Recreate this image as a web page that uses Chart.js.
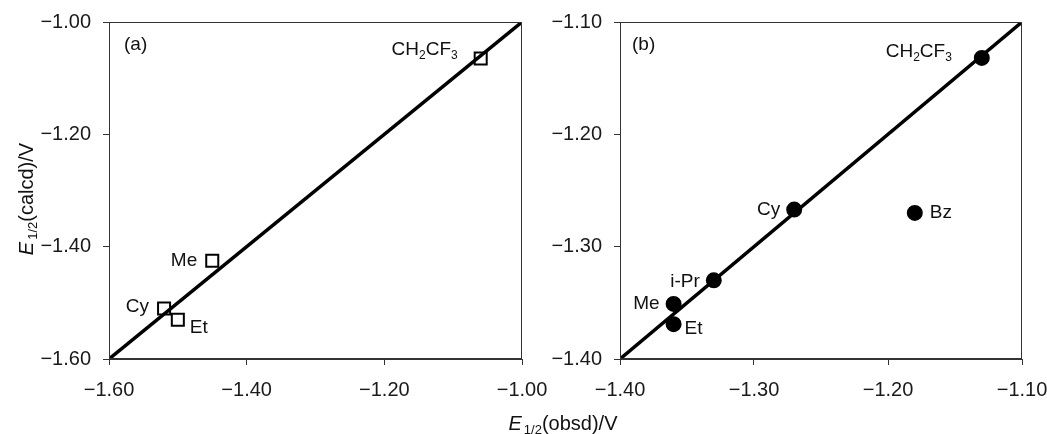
<!DOCTYPE html>
<html>
<head>
<meta charset="utf-8">
<script src="https://cdn.jsdelivr.net/npm/chart.js@4/dist/chart.umd.min.js"></script>
<style>
  html, body { margin: 0; padding: 0; background: #fff; }
  #wrap { position: relative; width: 1047px; height: 434px; }
  #wrap canvas { position: absolute; left: 0; top: 0; }
</style>
</head>
<body>
<div id="wrap">
  <canvas id="chartA" width="1047" height="434"></canvas>
  <canvas id="chartB" width="1047" height="434"></canvas>
</div>
<script>
// panel (a): open squares
var namesA = ['CH2CF3', 'Me', 'Cy', 'Et'];
var obsdA  = [-1.06, -1.45, -1.52, -1.50];
var calcdA = [-1.065, -1.425, -1.51, -1.53];
var fitA   = [-1.60, -1.00];
var ticksA = [-1.60, -1.40, -1.20, -1.00];

// panel (b): filled circles
var namesB = ['CH2CF3', 'Cy', 'Bz', 'i-Pr', 'Me', 'Et'];
var obsdB  = [-1.13, -1.27, -1.18, -1.33, -1.36, -1.36];
var calcdB = [-1.132, -1.267, -1.27, -1.33, -1.351, -1.369];
var fitB   = [-1.40, -1.10];
var ticksB = [-1.40, -1.30, -1.20, -1.10];

// label placement relative to its point: [dx, dy, align]
var offsA = [[-23, -9, 'right'], [-15, 0, 'right'], [-15, -2, 'right'], [12, 8, 'left']];
var offsB = [[-30, -6, 'right'], [-14, 0, 'right'], [15, 0, 'left'], [-14, 1, 'right'], [-14, 0, 'right'], [11, 5, 'left']];

var FONT = "'Liberation Sans', Arial, Helvetica, sans-serif";
var INK = '#111';

function richParts(str) {
  var out = [];
  (str.match(/\d+|\D+/g) || []).forEach(function (s) {
    out.push({ t: s, sub: /^\d+$/.test(s) });
  });
  return out;
}

function drawRich(ctx, parts, x, y, align, size) {
  var subSize = Math.round(size * 0.65);
  var fontOf = function (p) {
    return (p.italic ? 'italic ' : '') + (p.sub ? subSize : size) + 'px ' + FONT;
  };
  var total = 0;
  parts.forEach(function (p) { ctx.font = fontOf(p); total += ctx.measureText(p.t).width + (p.gap || 0); });
  var cx = align === 'right' ? x - total : (align === 'center' ? x - total / 2 : x);
  ctx.textBaseline = 'middle';
  ctx.textAlign = 'left';
  parts.forEach(function (p) {
    ctx.font = fontOf(p);
    ctx.fillText(p.t, cx, p.sub ? y + size * 0.3 : y);
    cx += ctx.measureText(p.t).width + (p.gap || 0);
  });
}

function makePlugin(names, offs, tag, tagDx, withTitles) {
  return {
    id: 'decor',
    afterDatasetsDraw: function (chart) {
      var ctx = chart.ctx, a = chart.chartArea;
      ctx.save();
      // full frame
      ctx.strokeStyle = '#333';
      ctx.lineWidth = 1;
      ctx.strokeRect(a.left + 0.5, a.top + 0.5, a.right - a.left - 1, a.bottom - a.top - 1);
      ctx.fillStyle = INK;
      // point labels
      var meta = chart.getDatasetMeta(1);
      meta.data.forEach(function (pt, i) {
        var o = offs[i];
        drawRich(ctx, richParts(names[i]), pt.x + o[0], pt.y + o[1], o[2], 19);
      });
      // panel tag
      drawRich(ctx, [{ t: tag }], a.left + tagDx, 45, 'left', 19);
      if (withTitles) {
        drawRich(ctx, [{ t: 'E', italic: true, gap: 2 }, { t: '1/2', sub: true }, { t: '(obsd)/V' }], 563, 424, 'center', 20);
        ctx.translate(27, 199);
        ctx.rotate(-Math.PI / 2);
        drawRich(ctx, [{ t: 'E', italic: true, gap: 2 }, { t: '1/2', sub: true }, { t: '(calcd)/V' }], 0, 0, 'center', 20);
      }
      ctx.restore();
    }
  };
}

function fmt(v) {
  return (v < 0 ? '\u2212' : '') + Math.abs(v).toFixed(2);
}

function axis(ticks, step, fitSize, isY) {
  return {
    type: 'linear',
    min: ticks[0],
    max: ticks[ticks.length - 1],
    afterFit: function (s) {
      // fixed box sizes, no automatic label overflow padding
      if (isY) { s.width = fitSize; s.paddingTop = 0; s.paddingBottom = 0; }
      else { s.height = fitSize; s.paddingLeft = 0; s.paddingRight = 0; }
    },
    grid: { display: true, drawOnChartArea: false, drawTicks: true, tickLength: 6, color: '#333' },
    border: { display: true, color: '#333', width: 1 },
    ticks: {
      stepSize: step,
      padding: isY ? 12 : 13,
      color: '#1a1a1a',
      font: { family: FONT, size: 20 },
      callback: function (v) { return fmt(v); }
    }
  };
}

function build(id, fit, xs, ys, ticks, step, pad, yWidth, marker, names, offs, tag, tagDx, withTitles) {
  return new Chart(document.getElementById(id), {
    type: 'scatter',
    data: {
      datasets: [
        {
          type: 'line',
          data: fit.map(function (v) { return { x: v, y: v }; }),
          borderColor: '#000',
          borderWidth: 3.5,
          pointRadius: 0,
          fill: false
        },
        {
          data: xs.map(function (x, i) { return { x: x, y: ys[i] }; }),
          pointStyle: marker.style,
          pointRadius: marker.r,
          pointBorderWidth: 2,
          pointBorderColor: '#000',
          pointBackgroundColor: marker.fill
        }
      ]
    },
    options: {
      responsive: false,
      animation: false,
      layout: { autoPadding: false, padding: pad },
      plugins: { legend: { display: false }, tooltip: { enabled: false }, title: { display: false } },
      scales: {
        x: axis(ticks, step, 75, false),
        y: axis(ticks, step, yWidth, true)
      }
    },
    plugins: [makePlugin(names, offs, tag, tagDx, withTitles)]
  });
}

build('chartA', fitA, obsdA, calcdA, ticksA, 0.2,
  { left: 0, top: 22, right: 525, bottom: 0 }, 109,
  { style: 'rect', r: 8.5, fill: '#fff' }, namesA, offsA, '(a)', 15, true);

build('chartB', fitB, obsdB, calcdB, ticksB, 0.1,
  { left: 527, top: 22, right: 25, bottom: 0 }, 93,
  { style: 'circle', r: 7, fill: '#000' }, namesB, offsB, '(b)', 12, false);
</script>
</body>
</html>
